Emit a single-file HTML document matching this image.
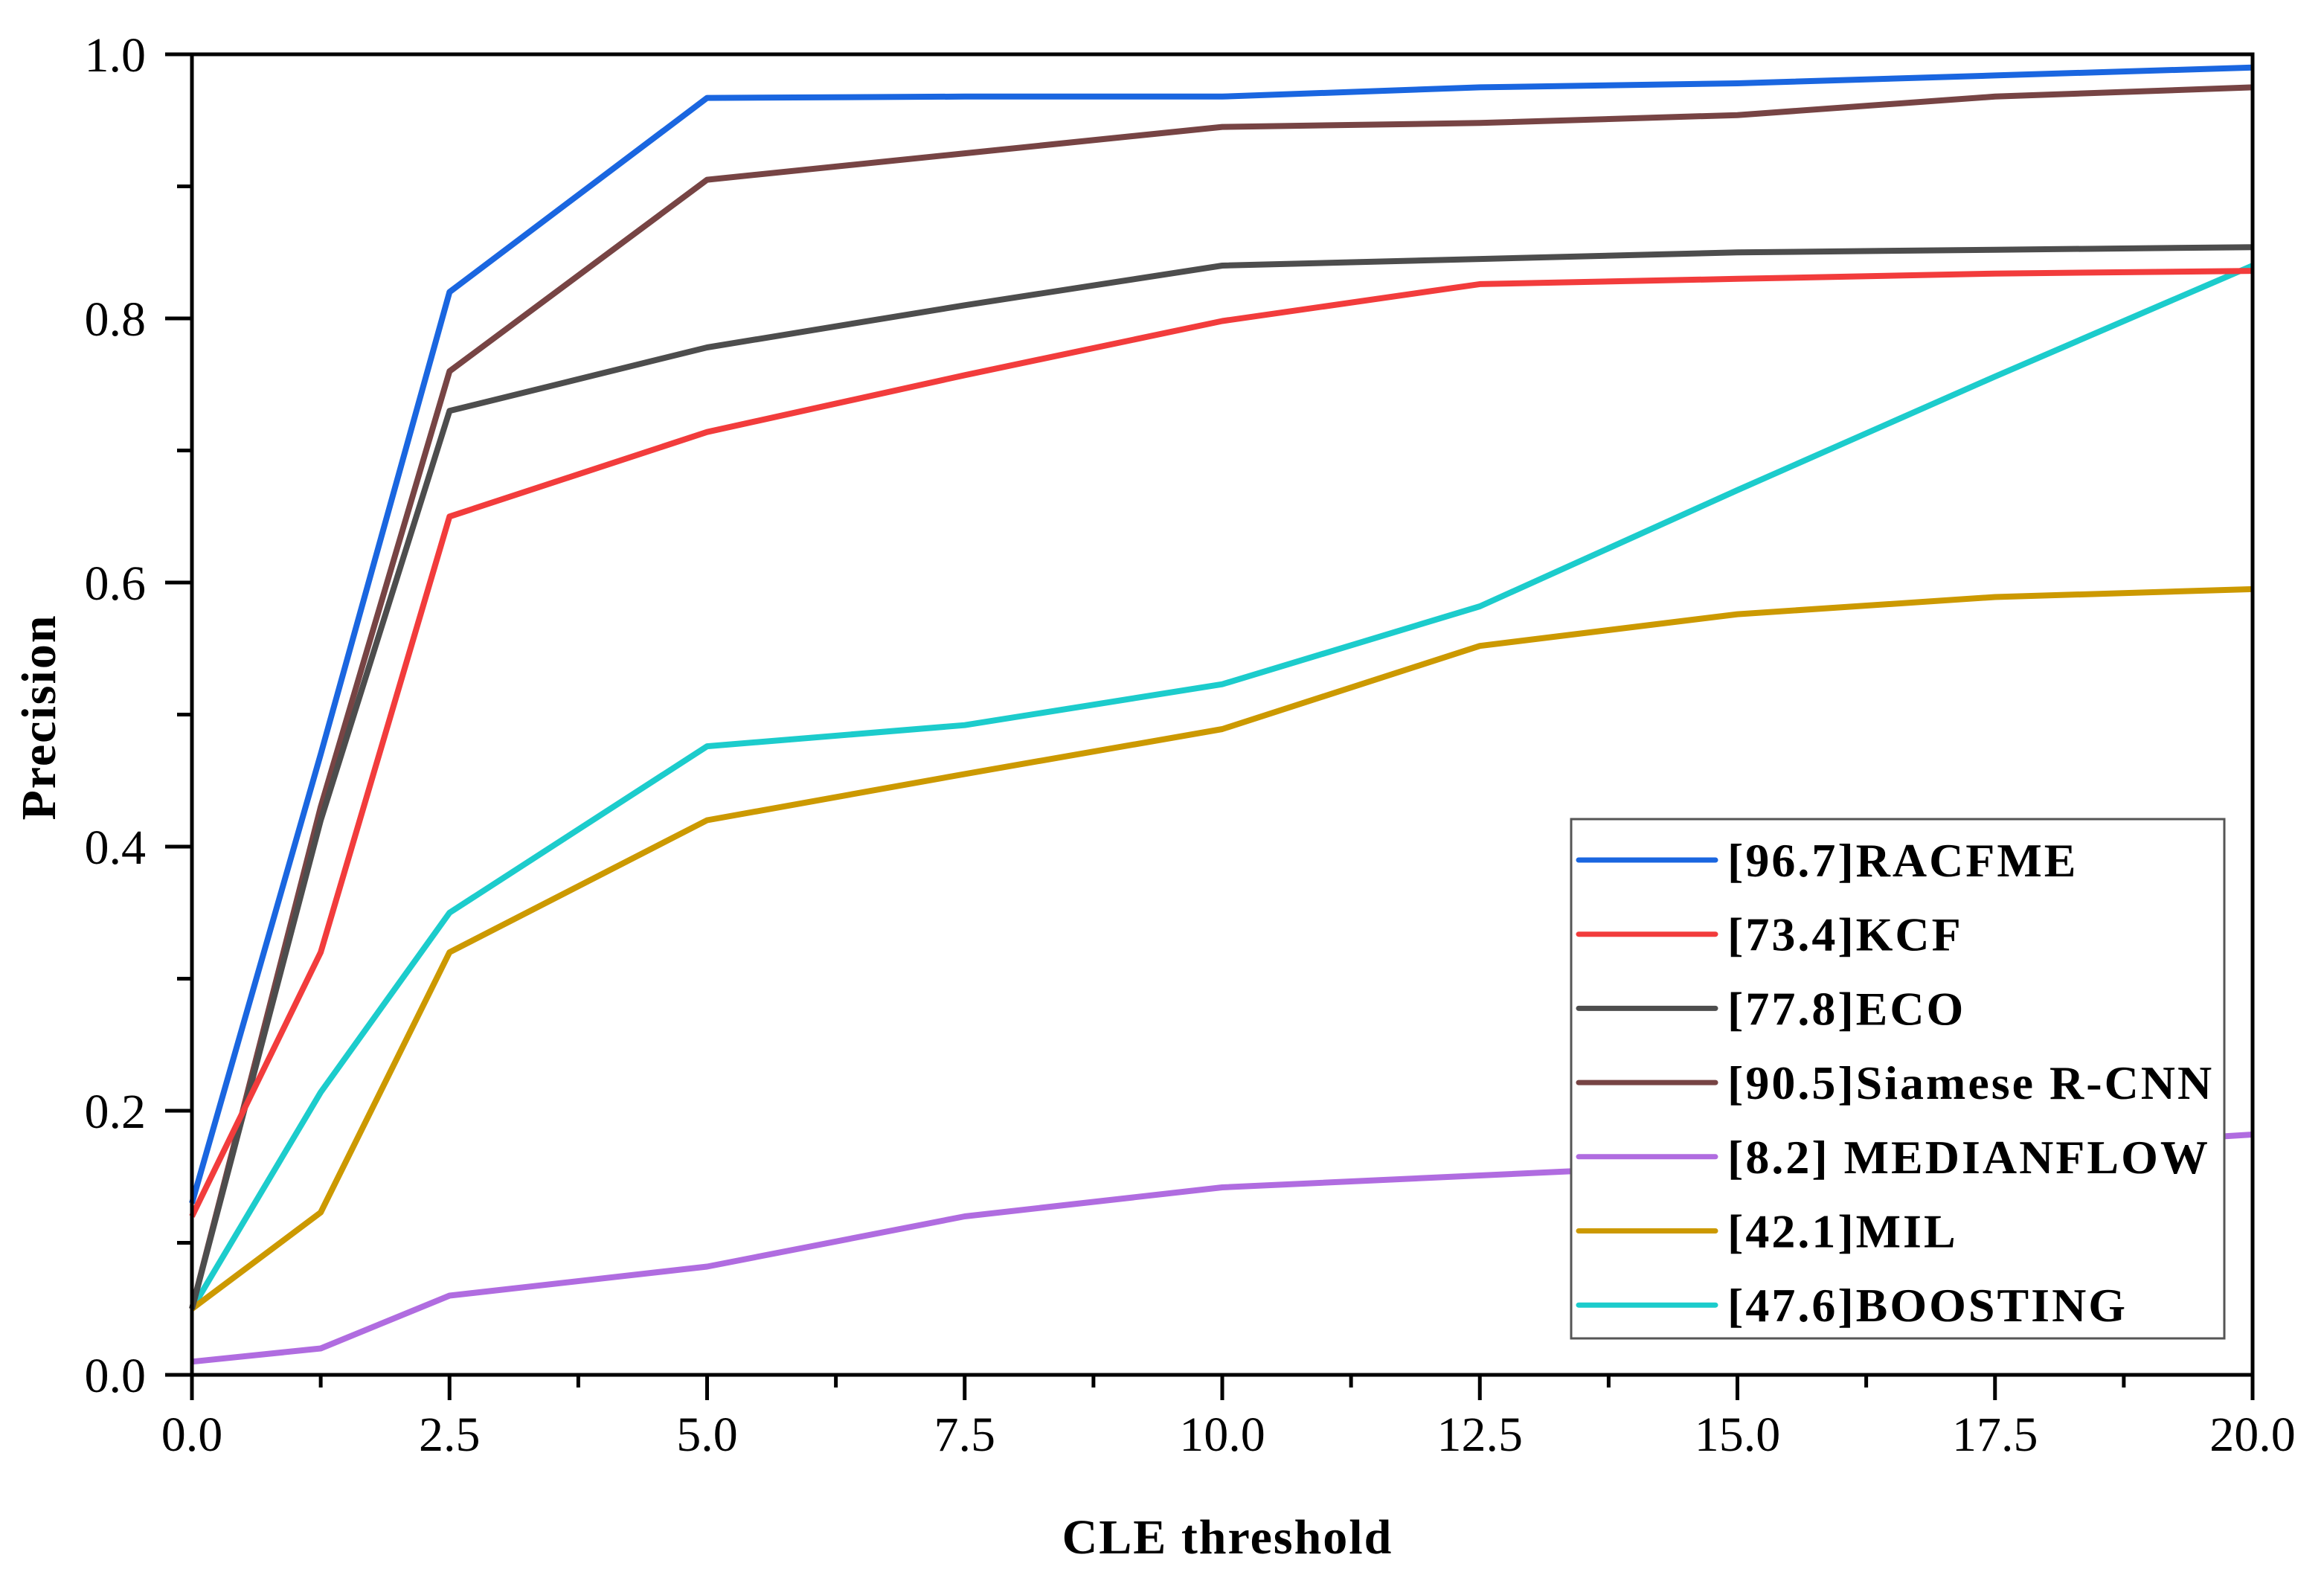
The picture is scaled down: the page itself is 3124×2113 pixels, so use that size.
<!DOCTYPE html>
<html><head><meta charset="utf-8"><style>
html,body{margin:0;padding:0;background:#fff;}
svg{display:block;}
</style></head><body>
<svg id="chart" width="3124" height="2113" viewBox="0 0 3124 2113" xmlns="http://www.w3.org/2000/svg">
<rect width="3124" height="2113" fill="#fff"/>
<g id="series"></g>
<g id="axes"></g>
<g id="legend"></g>
<text x="1650" y="2088" font-family="Liberation Serif, serif" font-weight="bold" font-size="66" letter-spacing="2" text-anchor="middle">CLE threshold</text>
<text transform="translate(74,964) rotate(-90)" font-family="Liberation Serif, serif" font-weight="bold" font-size="66" letter-spacing="2" text-anchor="middle">Precision</text>
</svg>
<script>
const xValues = [0, 1.25, 2.5, 5, 7.5, 10, 12.5, 15, 17.5, 20];
const seriesNames = ["[96.7]RACFME","[73.4]KCF","[77.8]ECO","[90.5]Siamese R-CNN","[8.2] MEDIANFLOW","[42.1]MIL","[47.6]BOOSTING"];
const seriesColors = ["#1a66e0","#f23c3c","#4d4d4d","#774444","#b06ce0","#cc9900","#1ccccc"];
const racfme = [0.13,0.47,0.82,0.967,0.968,0.968,0.975,0.978,0.984,0.99];
const kcf = [0.12,0.32,0.65,0.714,0.757,0.798,0.826,0.83,0.834,0.836];
const eco = [0.05,0.42,0.73,0.778,0.81,0.84,0.845,0.85,0.852,0.854];
const siamese = [0.05,0.43,0.76,0.905,0.925,0.945,0.948,0.954,0.968,0.975];
const medianflow = [0.01,0.02,0.06,0.082,0.12,0.142,0.151,0.16,0.17,0.182];
const mil = [0.05,0.123,0.32,0.42,0.455,0.489,0.552,0.576,0.589,0.595];
const boosting = [0.05,0.214,0.35,0.476,0.492,0.523,0.582,0.67,0.756,0.84];
const xTickLabels = ["0.0","2.5","5.0","7.5","10.0","12.5","15.0","17.5","20.0"];
const yTickLabels = ["0.0","0.2","0.4","0.6","0.8","1.0"];

const NS = "http://www.w3.org/2000/svg";
const X0 = 258, X1 = 3028, Y0 = 1848, Y1 = 73;
const xScale = v => X0 + (v - 0) / 20 * (X1 - X0);
const yScale = v => Y0 - (v - 0) / 1 * (Y0 - Y1);
function mk(tag, attrs, parent) {
  const e = document.createElementNS(NS, tag);
  for (const k in attrs) e.setAttribute(k, attrs[k]);
  parent.appendChild(e);
  return e;
}
const allSeries = [racfme, kcf, eco, siamese, medianflow, mil, boosting];
const sg = document.getElementById("series");
for (let i = allSeries.length - 1; i >= 0; i--) {
  const pts = allSeries[i].map((v, j) => xScale(xValues[j]).toFixed(1) + "," + yScale(v).toFixed(1)).join(" ");
  const pl = mk("polyline", {points: pts, fill: "none", stroke: seriesColors[i], "stroke-width": 8, "stroke-linejoin": "round"}, sg);
  
  
}
const ag = document.getElementById("axes");
const frame = mk("rect", {x: X0, y: Y1, width: X1 - X0, height: Y0 - Y1, fill: "none", stroke: "#000", "stroke-width": 5}, ag);


for (let v = 0; v <= 20.001; v += 1.25) {
  const major = Math.abs(v / 2.5 - Math.round(v / 2.5)) < 1e-6;
  const t = mk("line", {x1: xScale(v), x2: xScale(v), y1: Y0, y2: Y0 + (major ? 34 : 17), stroke: "#000", "stroke-width": 5}, ag);
  
  
}
xTickLabels.forEach((s, i) => {
  const t = mk("text", {x: xScale(i * 2.5), y: 1950, "font-family": "Liberation Serif, serif", "font-size": 66, "text-anchor": "middle"}, ag);
  t.textContent = s;
  
  
});
for (let v = 0; v <= 1.0001; v += 0.1) {
  const major = Math.abs(v / 0.2 - Math.round(v / 0.2)) < 1e-6;
  const t = mk("line", {x1: X0, x2: X0 - (major ? 36 : 20), y1: yScale(v), y2: yScale(v), stroke: "#000", "stroke-width": 5}, ag);
  
  
}
yTickLabels.forEach((s, i) => {
  const t = mk("text", {x: 196, y: yScale(i * 0.2) + 23, "font-family": "Liberation Serif, serif", "font-size": 66, "text-anchor": "end"}, ag);
  t.textContent = s;
  
  
});
const lg = document.getElementById("legend");
const box = mk("rect", {x: 2112, y: 1101, width: 878, height: 698, fill: "#fff", stroke: "#555", "stroke-width": 3}, lg);


seriesNames.forEach((n, i) => {
  const y = 1156 + i * 99.7;
  const l = mk("line", {x1: 2122, x2: 2306, y1: y, y2: y, stroke: seriesColors[i], "stroke-width": 7, "stroke-linecap": "round"}, lg);
  
  
  const t = mk("text", {x: 2322, y: y + 22, "font-family": "Liberation Serif, serif", "font-weight": "bold", "font-size": 64, "letter-spacing": 3}, lg);
  t.textContent = n;
  
  
});
</script>
</body></html>
